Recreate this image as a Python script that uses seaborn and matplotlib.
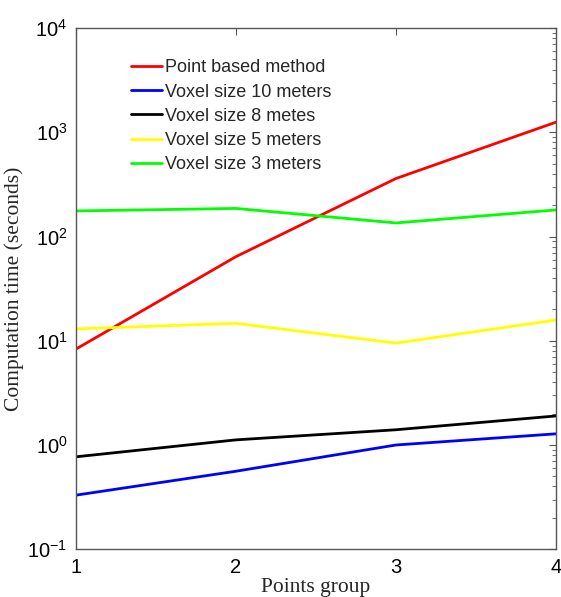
import numpy as np
import pandas as pd
import matplotlib
matplotlib.use('Agg')
import matplotlib.pyplot as plt
import seaborn as sns

# Values
groups = [1, 2, 3, 4]
point_based = [8.3, 64, 360, 1250]
voxel_10 = [0.33, 0.56, 1.0, 1.28]
voxel_8 = [0.77, 1.12, 1.40, 1.90]
voxel_5 = [13.0, 14.7, 9.5, 15.8]
voxel_3 = [176, 186, 135, 180]

series_names = ['Point based method', 'Voxel size 10 meters', 'Voxel size 8 metes',
                'Voxel size 5 meters', 'Voxel size 3 meters']
series_colors = ['#ff0000', '#0000ff', '#000000', '#ffff00', '#00ff00']

rows = []
for name, vals in zip(series_names, [point_based, voxel_10, voxel_8, voxel_5, voxel_3]):
    for g, v in zip(groups, vals):
        rows.append({'group': g, 'time': v, 'method': name})
df = pd.DataFrame(rows)

sns.set_style('white')
plt.rcParams['font.family'] = ['Liberation Sans', 'DejaVu Sans']
plt.rcParams['mathtext.default'] = 'regular'
plt.rcParams['axes.unicode_minus'] = False

fig = plt.figure(figsize=(5.61, 5.97), dpi=100)
ax = fig.add_axes([0.135, 0.080, 0.856, 0.873])

sns.lineplot(data=df, x='group', y='time', hue='method', hue_order=series_names,
             palette=dict(zip(series_names, series_colors)), linewidth=2, ax=ax,
             legend=True)

ax.set_yscale('log')
ax.set_xlim(1, 4)
ax.set_ylim(0.1, 1e4)
ax.set_xticks(groups)
ax.set_xticklabels([str(g) for g in groups])

for s in ax.spines.values():
    s.set_color('#555555')
    s.set_linewidth(1)
ax.tick_params(which='both', direction='in', top=True, right=True, colors='#555555',
               labelcolor='black', labelsize=14.5)
ax.tick_params(which='major', length=5)
ax.tick_params(which='minor', length=3)
ax.tick_params(axis='x', pad=6)
ax.tick_params(axis='y', pad=6)

ax.set_xlabel('Points group', family='Liberation Serif', fontsize=15.5, labelpad=1)
ax.set_ylabel('Computation time (seconds)', family='Liberation Serif', fontsize=15.5)
ax.yaxis.set_label_coords(-0.108, 0.5)

leg = ax.legend(loc='upper left', bbox_to_anchor=(0.115, 0.94), frameon=False,
                fontsize=13, handlelength=1.72, handletextpad=0.17, labelspacing=0.4,
                borderaxespad=0, borderpad=0)
for line in leg.get_lines():
    line.set_linewidth(2)

fig.savefig('out.png', dpi=100)
